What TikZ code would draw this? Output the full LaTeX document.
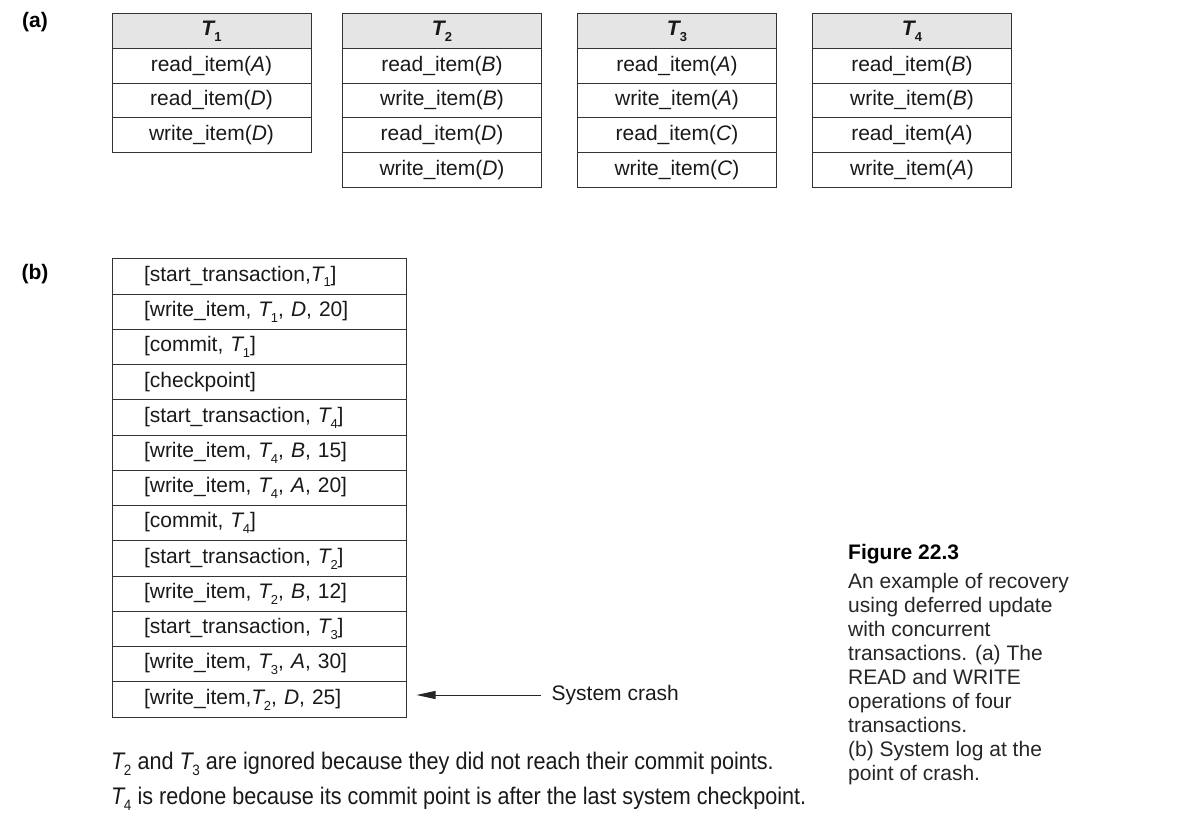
\documentclass[tikz,border=0pt]{standalone}
\usepackage{fontspec}
\setmainfont{Liberation Sans}
\newfontfamily\narrowfont[FakeStretch=0.9]{Liberation Sans}
\usetikzlibrary{arrows.meta,calc}
\newcommand\Ts[1]{\textit{T}\kern-0.07em\raisebox{-0.28em}{\fontsize{13}{13}\selectfont #1}}
\newcommand\Tn[1]{\textit{T}\kern-0.07em\raisebox{-0.28em}{\fontsize{15}{15}\selectfont #1}}
\tikzset{
  txt/.style={font=\fontsize{21}{25}\selectfont, text=black!90},
  cellbox/.style={txt, draw=black!80, line width=1pt, minimum width=199pt,
    minimum height=34.7pt, inner sep=0pt, anchor=north west},
  headbox/.style={cellbox, fill=black!10, font=\fontsize{21}{25}\selectfont\bfseries},
  logrow/.style={txt, draw=black!80, line width=1pt, text width=230pt, align=left,
    inner xsep=32pt, inner ysep=0pt, minimum height=35.26pt, anchor=north west},
  lbl/.style={font=\fontsize{21}{25}\selectfont\bfseries, inner sep=0pt},
  caption/.style={font=\fontsize{21}{24}\selectfont, text=black!85, inner sep=0pt, align=left},
  note/.style={font=\fontsize{24}{28}\narrowfont, text=black!90, inner sep=0pt, anchor=base west},
  crasharrow/.style={line width=1pt, draw=black!85, -{Triangle[length=19pt,width=8pt]}}
}
\begin{document}
\begin{tikzpicture}[x=1pt,y=-1pt]
\useasboundingbox (0,0) rectangle (1203,832);

% labels
\node[lbl] (la) at (35,22) {(a)};
\node[lbl] (lb) at (35,274) {(b)};

% T1
\node[headbox] (T1h) at (111.5,13.3) {\Ts{1}};
\node[cellbox] (T1r1) at (111.5,48.0) {read\_item(\textit{A})};
\node[cellbox] (T1r2) at (111.5,82.7) {read\_item(\textit{D})};
\node[cellbox] (T1r3) at (111.5,117.4) {write\_item(\textit{D})};
% T2
\node[headbox] (T2h) at (342,13.3) {\Ts{2}};
\node[cellbox] (T2r1) at (342,48.0) {read\_item(\textit{B})};
\node[cellbox] (T2r2) at (342,82.7) {write\_item(\textit{B})};
\node[cellbox] (T2r3) at (342,117.4) {read\_item(\textit{D})};
\node[cellbox] (T2r4) at (342,152.1) {write\_item(\textit{D})};
% T3
\node[headbox] (T3h) at (577,13.3) {\Ts{3}};
\node[cellbox] (T3r1) at (577,48.0) {read\_item(\textit{A})};
\node[cellbox] (T3r2) at (577,82.7) {write\_item(\textit{A})};
\node[cellbox] (T3r3) at (577,117.4) {read\_item(\textit{C})};
\node[cellbox] (T3r4) at (577,152.1) {write\_item(\textit{C})};
% T4
\node[headbox] (T4h) at (812,13.3) {\Ts{4}};
\node[cellbox] (T4r1) at (812,48.0) {read\_item(\textit{B})};
\node[cellbox] (T4r2) at (812,82.7) {write\_item(\textit{B})};
\node[cellbox] (T4r3) at (812,117.4) {read\_item(\textit{A})};
\node[cellbox] (T4r4) at (812,152.1) {write\_item(\textit{A})};

% log
\foreach \i/\t in {
  1/{[start\_transaction,\Ts{1}]},
  2/{[write\_item, \Ts{1}, \textit{D}, 20]},
  3/{[commit, \Ts{1}]},
  4/{[checkpoint]},
  5/{[start\_transaction, \Ts{4}]},
  6/{[write\_item, \Ts{4}, \textit{B}, 15]},
  7/{[write\_item, \Ts{4}, \textit{A}, 20]},
  8/{[commit, \Ts{4}]},
  9/{[start\_transaction, \Ts{2}]},
  10/{[write\_item, \Ts{2}, \textit{B}, 12]},
  11/{[start\_transaction, \Ts{3}]},
  12/{[write\_item, \Ts{3}, \textit{A}, 30]},
  13/{[write\_item,\Ts{2}, \textit{D}, 25]}}
{
  \node[logrow] (L\i) at (111.5,{258.3+35.26*(\i-1)}) {\t};
}

% crash arrow
\node[txt, anchor=west, inner sep=0pt] (crash) at (551.5,695) {System crash};
\coordinate (tip) at ($(L13.east)+(10,0)$);
\draw[crasharrow] ($(crash.west)+(-11,0)$) -- (tip |- crash.west);

% notes
\node[note] (n1) at (111,769) {\Tn{2} and \Tn{3} are ignored because they did not reach their commit points.};
\node[note] (n2) at (111,804) {\Tn{4} is redone because its commit point is after the last system checkpoint.};

% caption
\node[caption, anchor=base west, font=\fontsize{21}{24}\selectfont\bfseries, text=black] (figt) at (848,559.5) {Figure 22.3};
\node[caption, anchor=north west] (figc) at (848,573) {An example of recovery\\using deferred update\\with concurrent\\transactions. (a) The\\READ and WRITE\\operations of four\\transactions.\\(b) System log at the\\point of crash.};
\end{tikzpicture}
\end{document}
